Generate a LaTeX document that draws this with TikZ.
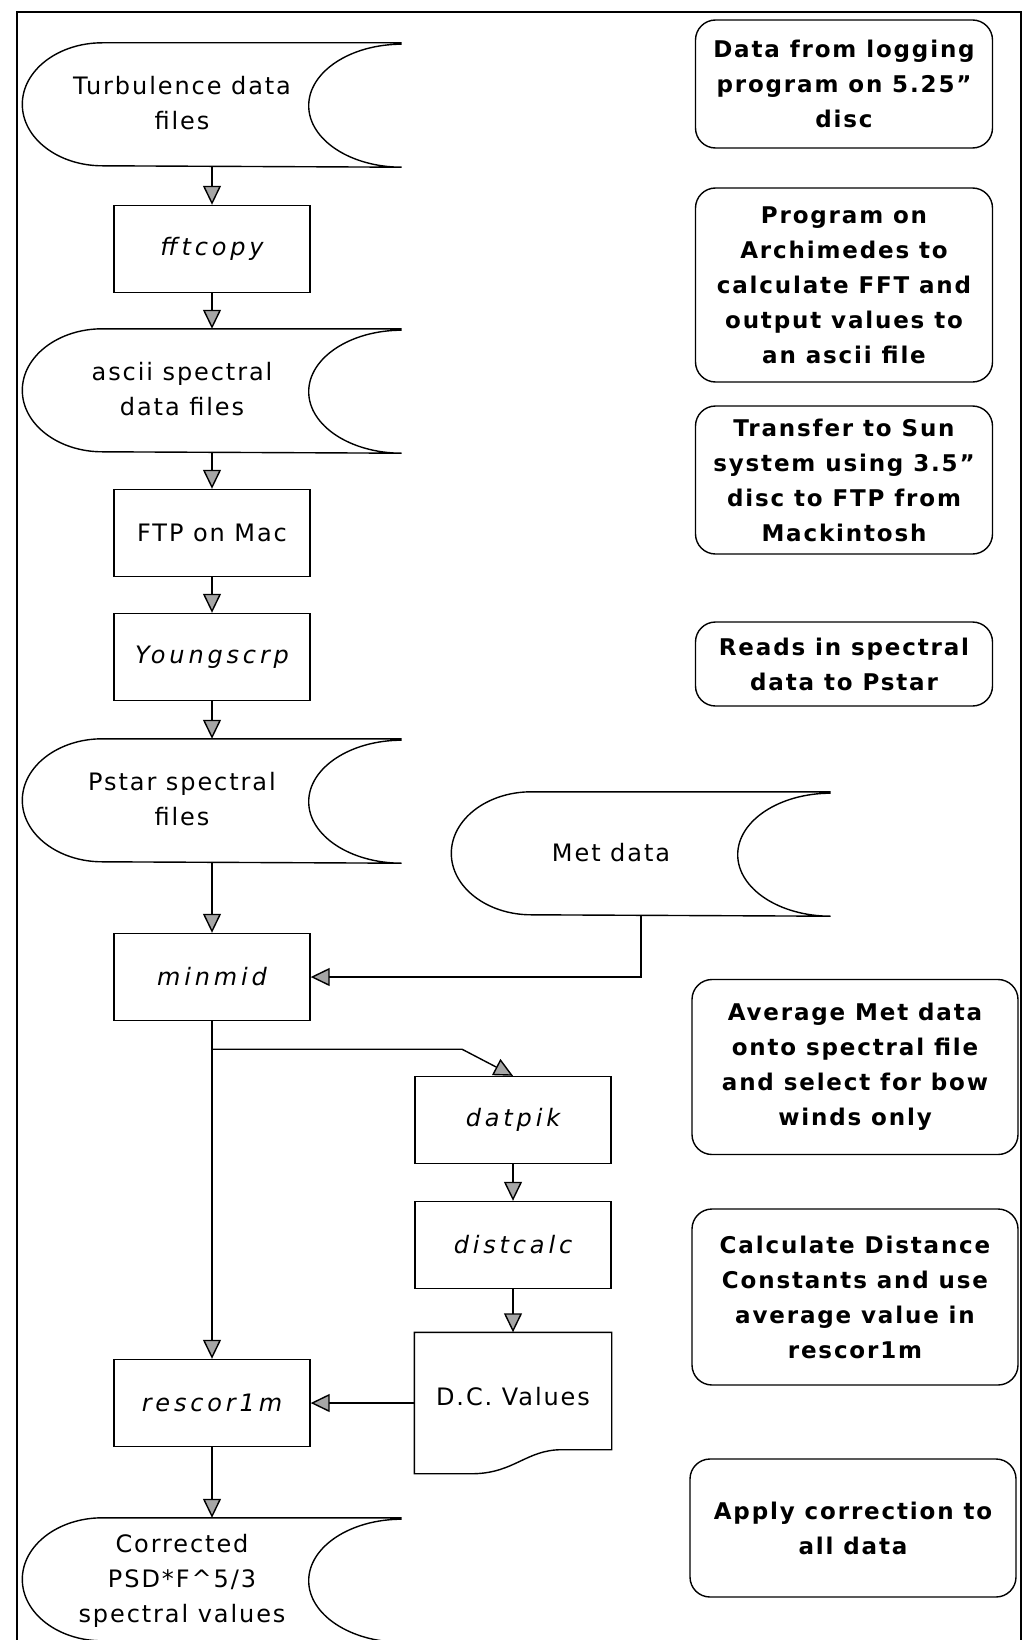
\documentclass[tikz,border=0pt]{standalone}
\usepackage{fontspec}
\setmainfont{DejaVu Sans}[LetterSpace=8]
\usepackage{tikz}
\usetikzlibrary{positioning,arrows.meta}

\newcommand{\tapetext}[1]{\begin{tabular}{@{}c@{}}#1\end{tabular}\hspace*{60pt}}

\begin{document}
\begin{tikzpicture}[
    x=1pt, y=1pt,
    line width=1.4pt,
    every node/.style = {
      align=center,
      font=\fontsize{24}{35}\selectfont
    },
    prog/.style = {
      shape=rectangle,
      draw,
      sharp corners,
      minimum width=196pt,
      minimum height=87pt
    },
    slant/.style = {
      font=\fontsize{24}{35}\selectfont\itshape\addfontfeature{LetterSpace=16}
    },
    note/.style = {
      shape=rectangle,
      draw,
      rounded corners=20pt,
      minimum width=326pt,
      font=\fontsize{23}{35}\selectfont\bfseries
    },
    tape/.style = {
      shape=rectangle,
      inner sep=0pt,
      minimum width=378pt,
      minimum height=123pt
    },
    link/.style = {
      -{Triangle[width=18pt,length=19pt,fill=gray!70]}
    }
  ]
    \useasboundingbox (0,0) rectangle (1025,-1640);
    \draw[line width=1.8pt] (17,-1640) -- (17,-12) -- (1021,-12) -- (1021,-1640);

    % Main chain
    \node[tape] (turb) at (212,-105) {\tapetext{Turbulence data\\files}};
    \node[prog, slant] (fft) at (212,-249) {fftcopy};
    \node[tape] (ascii) at (212,-391) {\tapetext{ascii spectral\\data files}};
    \node[prog] (ftp) at (212,-533) {FTP on Mac};
    \node[prog, slant] (young) at (212,-657) {Youngscrp};
    \node[tape] (pstar) at (212,-801) {\tapetext{Pstar spectral\\files}};
    \node[tape] (met) at (641,-854) {\tapetext{Met data}};
    \node[prog, slant] (minmid) at (212,-977) {minmid};
    \node[prog, slant] (datpik) at (513,-1120) {datpik};
    \node[prog, slant] (dist) at (513,-1245) {distcalc};
    \node[prog, draw=none, minimum height=140pt] (dcv) at (513,-1403)
      {\raisebox{13pt}{D.C. Values}};
    \node[prog, slant] (rescor) at (212,-1403) {rescor1m};
    \node[tape] (corr) at (212,-1580)
      {\tapetext{Corrected\\PSD*F\textasciicircum 5/3\\spectral values}};

    % Tape and document outlines
    \foreach \t in {turb,ascii,pstar,met,corr}
      \draw (\t.north east) -- ([xshift=80pt]\t.north west)
        arc[start angle=90, end angle=270, x radius=80pt, y radius=61.5pt]
        -- (\t.south east)
        arc[start angle=270, end angle=90, x radius=93pt, y radius=61.5pt];
    \draw (dcv.south west) -- (dcv.north west) -- (dcv.north east)
      -- ([yshift=24pt]dcv.south east)
      -- ([xshift=-50pt,yshift=24pt]dcv.south east)
      .. controls ([xshift=-85pt,yshift=24pt]dcv.south east)
      and ([xshift=100pt,yshift=1pt]dcv.south west)
      .. ([xshift=60pt]dcv.south west) -- cycle;

    % Connectors
    \draw[link] (turb) -- (fft);
    \draw[link] (fft) -- (ascii);
    \draw[link] (ascii) -- (ftp);
    \draw[link] (ftp) -- (young);
    \draw[link] (young) -- (pstar);
    \draw[link] (pstar) -- (minmid);
    \draw[link] (met) |- (minmid);
    \draw[link] (minmid) -- (rescor);
    \coordinate (split) at ([yshift=-28pt]minmid.south);
    \path (split -| datpik.north) ++(-51pt,0) coordinate (bend);
    \draw[link] (split) -- (bend) -- (datpik.north);
    \draw[link] (datpik) -- (dist);
    \draw[link] (dist) -- (dcv);
    \draw[link] (dcv) -- (rescor);
    \draw[link] (rescor) -- (corr);

    % Notes on the right
    \node[note, minimum width=297pt, minimum height=128pt] (data) at (844,-84)
      {Data from logging\\program on 5.25"\\disc};
    \node[note, minimum width=297pt, minimum height=194pt] (archi) at (844,-285)
      {Program on\\Archimedes to\\calculate FFT and\\output values to\\an ascii file};
    \node[note, minimum width=297pt, minimum height=148pt] (transfer) at (844,-480)
      {Transfer to Sun\\system using 3.5"\\disc to FTP from\\Mackintosh};
    \node[note, minimum width=297pt, minimum height=84pt] (reads) at (844,-664)
      {Reads in spectral\\data to Pstar};
    \node[note, minimum height=175pt] (average) at (855,-1067)
      {Average Met data\\onto spectral file\\and select for bow\\winds only};
    \node[note, minimum height=176pt] (distconst) at (855,-1297)
      {Calculate Distance\\Constants and use\\average value in\\rescor1m};
    \node[note, minimum height=138pt] (apply) at (853,-1528)
      {Apply correction to\\all data};
  \end{tikzpicture}
\end{document}
